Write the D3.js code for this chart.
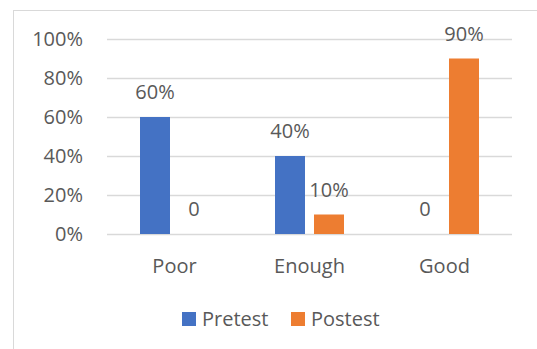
<!DOCTYPE html>
<html>
<head>
<meta charset="utf-8">
<script src="https://cdn.jsdelivr.net/npm/d3@7"></script>
<style>
  body { margin: 0; background: #fff; }
  text { font-family: "Open Sans", sans-serif; fill: #595959; }
</style>
</head>
<body>
<script>
const width = 537;
const height = 349;

const categories = ["Poor", "Enough", "Good"];
const seriesNames = ["Pretest", "Postest"];
const pretest = [0.6, 0.4, 0];
const postest = [0, 0.1, 0.9];
const labelsPre = ["60%", "40%", "0"];
const labelsPost = ["0", "10%", "90%"];
const yTicks = [0, 0.2, 0.4, 0.6, 0.8, 1];
const colors = ["#4472C4", "#ED7D31"];

const fs = 20;

const svg = d3.select("body").append("svg")
	.attr("width", width)
	.attr("height", height);

// chart border (runs off right/bottom edges)
svg.append("rect")
	.attr("x", 13.5).attr("y", 10.5)
	.attr("width", 540).attr("height", 350)
	.attr("fill", "none")
	.attr("stroke", "#D9D9D9");

const x = d3.scaleBand().domain(categories).range([107, 512]);
const y = d3.scaleLinear().domain([0, 1]).range([234, 39]);
const inner = d3.scaleBand().domain(seriesNames).range([0, 69]).paddingInner(9 / 39);

// gridlines
svg.append("g").selectAll("line")
	.data(yTicks)
	.enter().append("line")
	.attr("x1", 107).attr("x2", 512)
	.attr("y1", d => Math.round(y(d)) + 0.5)
	.attr("y2", d => Math.round(y(d)) + 0.5)
	.attr("stroke", "#D9D9D9")
	.attr("stroke-width", 1.5);

// y labels
svg.append("g").selectAll("text")
	.data(yTicks)
	.enter().append("text")
	.attr("x", 83)
	.attr("y", d => y(d))
	.attr("dy", "0.35em")
	.attr("text-anchor", "end")
	.attr("font-size", fs)
	.text(d => d3.format(".0%")(d));

// x labels
svg.append("g").selectAll("text")
	.data(categories)
	.enter().append("text")
	.attr("x", d => x(d) + x.bandwidth() / 2)
	.attr("y", 266)
	.attr("dy", "0.35em")
	.attr("text-anchor", "middle")
	.attr("font-size", fs)
	.text(d => d);

const rows = categories.map((c, i) => ({
	cat: c,
	vals: [
		{ s: "Pretest", v: pretest[i], label: labelsPre[i], color: colors[0] },
		{ s: "Postest", v: postest[i], label: labelsPost[i], color: colors[1] }
	]
}));

const groups = svg.append("g").selectAll("g")
	.data(rows)
	.enter().append("g")
	.attr("transform", d => `translate(${x(d.cat) + (x.bandwidth() - 69) / 2},0)`);

groups.selectAll("rect")
	.data(d => d.vals)
	.enter().append("rect")
	.attr("x", d => inner(d.s))
	.attr("y", d => y(d.v))
	.attr("width", inner.bandwidth())
	.attr("height", d => y(0) - y(d.v))
	.attr("fill", d => d.color);

groups.selectAll("text")
	.data(d => d.vals)
	.enter().append("text")
	.attr("x", d => inner(d.s) + inner.bandwidth() / 2)
	.attr("y", d => y(d.v) - 25)
	.attr("dy", "0.35em")
	.attr("text-anchor", "middle")
	.attr("font-size", fs)
	.text(d => d.label);

// legend
const legend = svg.append("g").selectAll("g")
	.data(seriesNames)
	.enter().append("g")
	.attr("transform", (d, i) => `translate(${i ? 291 : 182},312)`);

legend.append("rect")
	.attr("width", 14).attr("height", 14)
	.attr("fill", (d, i) => colors[i]);

legend.append("text")
	.attr("x", 20).attr("y", 7)
	.attr("dy", "0.35em")
	.attr("font-size", fs)
	.text(d => d);
</script>
</body>
</html>
